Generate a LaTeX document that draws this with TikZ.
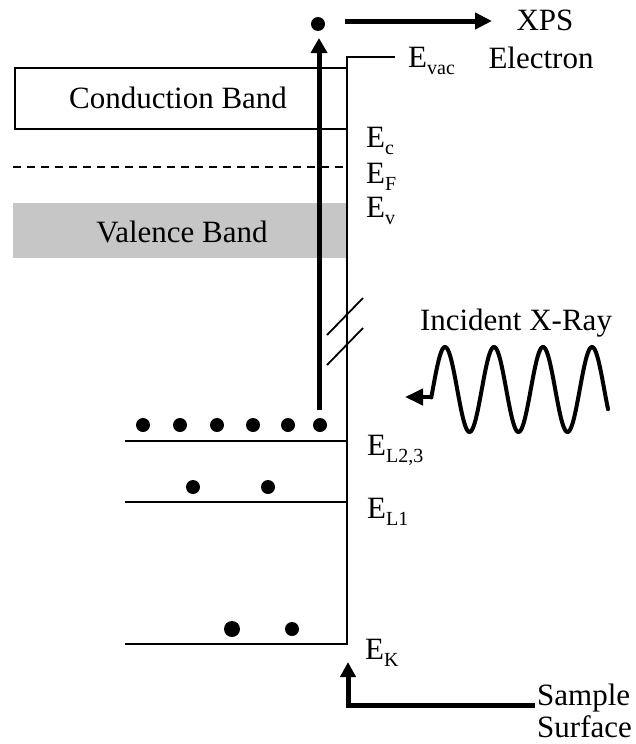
\documentclass[tikz,border=0pt]{standalone}
\usepackage{fontspec}
\setmainfont{Liberation Serif}
\usetikzlibrary{arrows.meta}
\newcommand{\bigtxt}{\fontsize{31}{35}\selectfont}
\newcommand{\subtxt}[1]{\raisebox{-7pt}{\fontsize{20}{22}\selectfont #1}}
\begin{document}
\begin{tikzpicture}[x=1pt,y=-1pt,
  thinln/.style={line width=1.8pt},
  thickarr/.style={line width=5pt,-{Triangle[length=15pt,width=16pt]}},
  edot/.style={circle,fill=black,inner sep=0pt,minimum size=14pt},
  lbl/.style={anchor=base west,inner sep=0pt,font=\bigtxt},
  txt/.style={inner sep=0pt,font=\bigtxt}]
\useasboundingbox (0,0) rectangle (636,744);
% bands
\fill[gray!45] (13,203) rectangle (347,258);
\node[txt] (vb) at (182,232) {Valence Band};
\draw[thinln] (15,68) rectangle (347,129);
\node[txt] (cb) at (178,98) {Conduction Band};
\draw[thinln,dash pattern=on 8pt off 6pt] (13,167) -- (347,167);
% levels
\coordinate (vtop) at (347,57);
\coordinate (vacend) at (395,57);
\coordinate (vbot) at (347,644);
\coordinate (kleft) at (125,644);
\draw[thinln] (vacend) -- (vtop) -- (vbot) -- (kleft);
\draw[thinln] (125,441) coordinate (l23a) -- (347,441) coordinate (l23b);
\draw[thinln] (125,502) coordinate (l1a) -- (347,502) coordinate (l1b);
% break marks
\draw[thinln] (327,335) -- (363,298);
\draw[thinln] (327,365) -- (363,328);
% electrons
\foreach \i/\x in {1/143,2/180,3/217,4/253,5/288,6/320}
  \node[edot] (a\i) at (\x,425) {};
\node[edot] (b1) at (193,487) {};
\node[edot] (b2) at (268,487) {};
\node[edot,minimum size=16pt] (k1) at (232,629) {};
\node[edot] (k2) at (292,629) {};
\node[edot] (out) at (318,24) {};
% excitation arrow
\coordinate (exc0) at (319,410);
\coordinate (exc1) at (319,38);
\draw[thickarr] (exc0) -- (exc1);
% XPS electron arrow
\coordinate (xps0) at (345,21);
\coordinate (xps1) at (492,21);
\draw[thickarr,-{Triangle[length=17pt,width=16pt]}] (xps0) -- (xps1);
\node[txt] (xps) at (545,20) {XPS};
\node[txt] (elec) at (541,58) {Electron};
% labels
\node[lbl] (evac) at (408,67) {E\subtxt{vac}};
\node[lbl] (ec) at (366,147) {E\subtxt{c}};
\node[lbl] (ef) at (366,183) {E\subtxt{F}};
\node[lbl] (ev) at (366,217) {E\subtxt{v}};
\node[lbl] (el23) at (367,455) {E\subtxt{L2,3}};
\node[lbl] (el1) at (367,518) {E\subtxt{L1}};
\node[lbl] (ek) at (365,659) {E\subtxt{K}};
% x-ray
\node[txt] (xray) at (516,323) {Incident X-Ray};
\draw[line width=4pt,line cap=round] plot[domain=-0.28:3.33,samples=240,smooth] ({445+49*\x},{389.5-42.5*cos(360*\x)});
\coordinate (w0) at (433,397);
\coordinate (w1) at (405,397);
\draw[line width=4pt,-{Triangle[length=18pt,width=16pt]}] (w0) -- (w1);
% sample surface
\coordinate (s0) at (535,705);
\coordinate (s1) at (348,705);
\coordinate (s2) at (348,662);
\draw[line width=5pt,-{Triangle[length=15pt,width=15pt]}] (s0) -- (s1) -- (s2);
\node[txt,anchor=west] (samp) at (537,698) {Sample};
\node[txt,anchor=west] (surf) at (537,727) {Surface};
\end{tikzpicture}
\end{document}
